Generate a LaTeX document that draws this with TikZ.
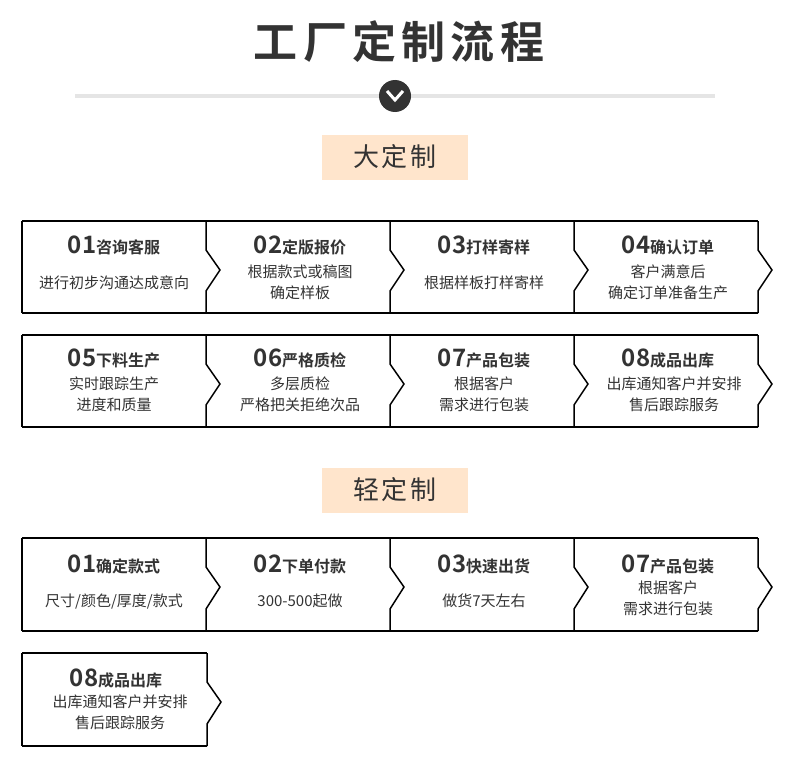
\documentclass[tikz,border=0pt]{standalone}
\usepackage{fontspec}
\setmainfont{Noto Sans CJK SC}[BoldFont={Noto Sans CJK SC Bold}]
\begin{document}
\begin{tikzpicture}[x=1pt,y=-1pt,
  txt/.style={text=black!80,inner sep=0pt},
  hd/.style={txt,font=\bfseries\fontsize{16}{18}\selectfont},
  ds/.style={txt,font=\fontsize{15}{21}\selectfont,align=center},
  lbl/.style={fill=orange!20!white,minimum width=146pt,minimum height=45pt,text=black!80,font=\fontsize{26}{28}\selectfont\addfontfeature{LetterSpace=8}}]
\useasboundingbox (0,0) rectangle (790,760);
\fill[white] (0,0) rectangle (790,760);
\node[txt,font=\bfseries\fontsize{44}{46}\selectfont\addfontfeature{LetterSpace=12}] (title) at (399,42) {工厂定制流程};
\draw[line width=4pt,black!10] (75,96) -- (715,96);
\node[circle,fill=black!80,minimum size=32pt,inner sep=0pt] (circ) at (395,96) {};
\draw[white,line width=3pt] (387,91) -- (395,100) -- (403,91);
\node[lbl] (big) at (395,157) {大定制};
\node[lbl] (light) at (395,490) {轻定制};
\newcommand{\chevrow}[4]{%
  \draw[line width=1.8pt] (#4,#1) -- (#4,#2);
  \draw[line width=2.4pt] (#4,#1) -- (#3,#1);
  \draw[line width=2.4pt] (#4,#2) -- (#3,#2);
}
\newcommand{\chev}[3]{\draw[line width=1.5pt] (#1,#2) -- (#1,#2+29) -- (#1+14,#2+49) -- (#1,#3-22) -- (#1,#3);}
\chevrow{221}{313}{758}{22}
\foreach \x in {206,390,574,758} {\chev{\x}{221}{313}}
\chevrow{335}{427}{758}{22}
\foreach \x in {206,390,574,758} {\chev{\x}{335}{427}}
\chevrow{538}{631}{758}{22}
\foreach \x in {206,390,574,758} {\chev{\x}{538}{631}}
\chevrow{653}{746}{207}{22}
\chev{207}{653}{746}
\newcommand{\num}[2]{{\fontsize{24}{26}\selectfont #1}#2}
\node[hd] (h1) at (114,245) {\num{01}{咨询客服}};
\node[ds] (d1) at (114,283) {进行初步沟通达成意向};
\node[hd] (h2) at (300,245) {\num{02}{定版报价}};
\node[ds] (d2) at (300,282) {根据款式或稿图\\确定样板};
\node[hd] (h3) at (484,245) {\num{03}{打样寄样}};
\node[ds] (d3) at (484,283) {根据样板打样寄样};
\node[hd] (h4) at (668,245) {\num{04}{确认订单}};
\node[ds] (d4) at (668,282) {客户满意后\\确定订单准备生产};
\node[hd] (h5) at (114,358) {\num{05}{下料生产}};
\node[ds] (d5) at (114,394) {实时跟踪生产\\进度和质量};
\node[hd] (h6) at (300,358) {\num{06}{严格质检}};
\node[ds] (d6) at (300,394) {多层质检\\严格把关拒绝次品};
\node[hd] (h7) at (484,358) {\num{07}{产品包装}};
\node[ds] (d7) at (484,394) {根据客户\\需求进行包装};
\node[hd] (h8) at (668,358) {\num{08}{成品出库}};
\node[ds] (d8) at (674,394) {出库通知客户并安排\\售后跟踪服务};
\node[hd] (l1) at (114,564) {\num{01}{确定款式}};
\node[ds] (e1) at (114,601) {尺寸/颜色/厚度/款式};
\node[hd] (l2) at (300,564) {\num{02}{下单付款}};
\node[ds] (e2) at (300,601) {300-500起做};
\node[hd] (l3) at (484,564) {\num{03}{快速出货}};
\node[ds] (e3) at (484,601) {做货7天左右};
\node[hd] (l4) at (668,564) {\num{07}{产品包装}};
\node[ds] (e4) at (668,598) {根据客户\\需求进行包装};
\node[hd] (l5) at (116,678) {\num{08}{成品出库}};
\node[ds] (e5) at (120,712) {出库通知客户并安排\\售后跟踪服务};
\end{tikzpicture}
\end{document}
